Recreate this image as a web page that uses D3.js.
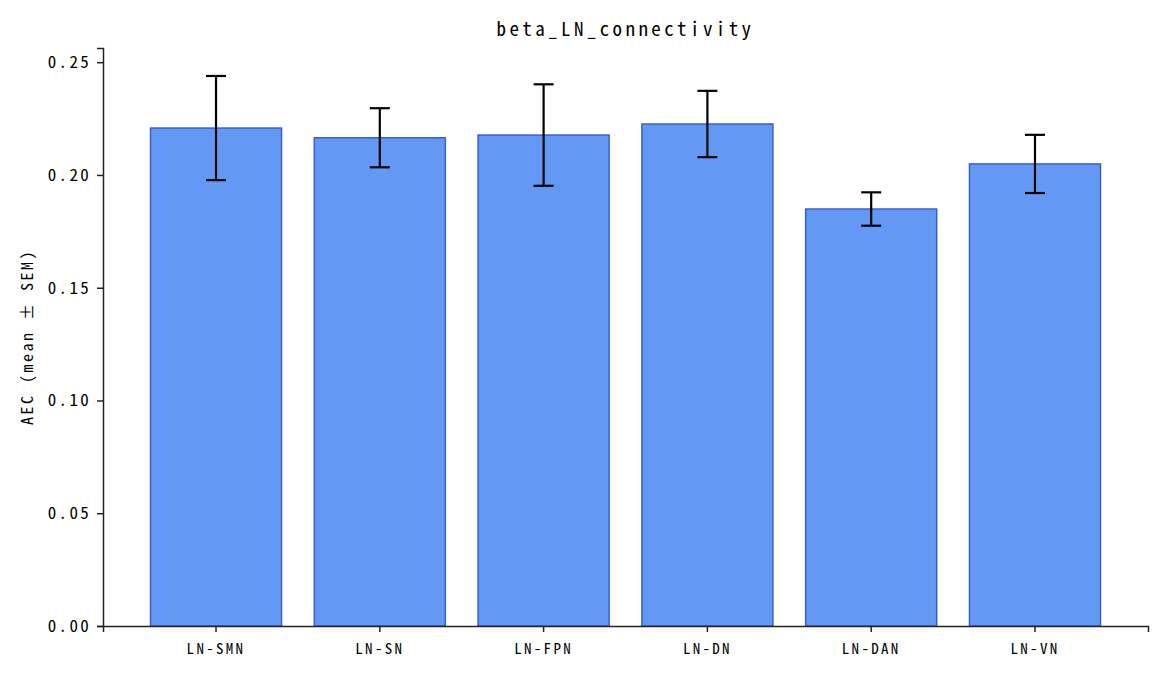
<!DOCTYPE html>
<html>
<head>
<meta charset="utf-8">
<script src="https://cdn.jsdelivr.net/npm/d3@7"></script>
<style>
  body { margin: 0; background: #fff; }
  text { font-family: "Noto Sans Mono CJK SC", "DejaVu Sans Mono", monospace; fill: #000; }
</style>
</head>
<body>
<div id="chart"></div>
<script>
const categories = ['LN-SMN', 'LN-SN', 'LN-FPN', 'LN-DN', 'LN-DAN', 'LN-VN'];
const means = [0.2208, 0.2165, 0.2177, 0.2226, 0.1849, 0.2049];
const sems = [0.0231, 0.0131, 0.0225, 0.0147, 0.0074, 0.0129];
const yTicks = [0.00, 0.05, 0.10, 0.15, 0.20, 0.25];

const W = 1164, H = 674;
const margin = { top: 48, right: 16, bottom: 48, left: 103 };
const width = W - margin.left - margin.right;
const height = H - margin.top - margin.bottom;

const svg = d3.select('#chart').append('svg')
    .attr('width', W)
    .attr('height', H);

const g = svg.append('g')
    .attr('transform', `translate(${margin.left},${margin.top})`);

const x = d3.scaleBand()
    .domain(categories)
    .range([0, width])
    .paddingInner(0.2)
    .paddingOuter(0.29);

const y = d3.scaleLinear().domain([0, 0.2563]).range([height, 0]);

// bars
g.selectAll('rect.bar')
    .data(categories)
    .enter().append('rect')
    .attr('class', 'bar')
    .attr('x', (d) => x(d))
    .attr('y', (d, i) => y(means[i]))
    .attr('width', x.bandwidth())
    .attr('height', (d, i) => y(0) - y(means[i]))
    .attr('fill', '#6399f5')
    .attr('stroke', '#3a5fcd')
    .attr('stroke-width', 1.5);

// error bars
const err = g.selectAll('g.err')
    .data(categories)
    .enter().append('g')
    .attr('class', 'err')
    .attr('transform', (d) => `translate(${x(d) + x.bandwidth() / 2},0)`);

err.append('line')
    .attr('y1', (d, i) => y(means[i] - sems[i]))
    .attr('y2', (d, i) => y(means[i] + sems[i]))
    .attr('stroke', '#000').attr('stroke-width', 2.2);

[-1, 1].forEach((s) => {
    err.append('line')
        .attr('x1', -10).attr('x2', 10)
        .attr('y1', (d, i) => y(means[i] + s * sems[i]))
        .attr('y2', (d, i) => y(means[i] + s * sems[i]))
        .attr('stroke', '#000').attr('stroke-width', 2.2);
});

// axes
const xAxis = g.append('g')
    .attr('transform', `translate(0,${height})`)
    .call(d3.axisBottom(x).tickSizeOuter(0).tickSize(6).tickPadding(11));

const yAxis = g.append('g')
    .call(d3.axisLeft(y).tickValues(yTicks).tickFormat(d3.format('.2f')).tickSizeOuter(0).tickSize(6).tickPadding(6));

[xAxis, yAxis].forEach((a) => {
    a.select('.domain').attr('stroke', '#222').attr('stroke-width', 1.5);
    a.selectAll('.tick line').attr('stroke', '#222').attr('stroke-width', 1.5);
});
xAxis.selectAll('text').attr('font-size', 15).attr('letter-spacing', 2.3).attr('fill', '#000');
yAxis.selectAll('text').attr('font-size', 17).attr('letter-spacing', 2.3).attr('fill', '#000');

// title
svg.append('text')
    .attr('x', margin.left + width / 2)
    .attr('y', 36)
    .attr('text-anchor', 'middle')
    .attr('font-size', 19)
    .attr('letter-spacing', 3.4)
    .text('beta_LN_connectivity');

// y label
svg.append('text')
    .attr('transform', `translate(33,${margin.top + height / 2}) rotate(-90)`)
    .attr('text-anchor', 'middle')
    .attr('font-size', 16)
    .attr('letter-spacing', 2.5)
    .text('AEC (mean ± SEM)');
</script>
</body>
</html>
